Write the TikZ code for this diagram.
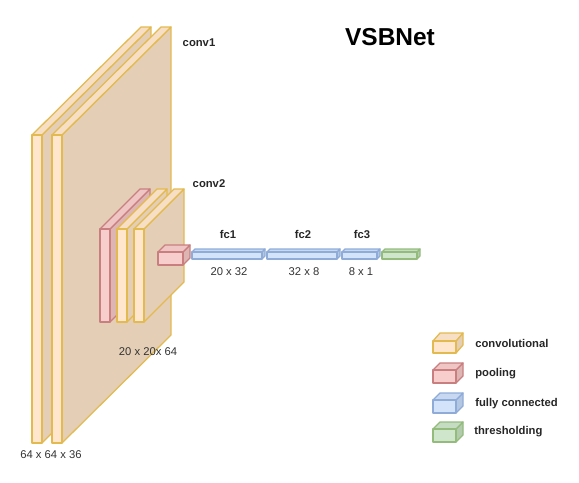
\documentclass[tikz,border=0pt]{standalone}
\usepackage{fontspec}
\setmainfont{Liberation Sans}

\definecolor{convline}{HTML}{E3BA50}
\definecolor{convfront}{HTML}{FFE6CC}
\definecolor{convtop}{HTML}{F6DFC4}
\definecolor{convside}{HTML}{E4CFB6}
\definecolor{poolline}{HTML}{C97F7F}
\definecolor{poolfront}{HTML}{F8CECC}
\definecolor{pooltop}{HTML}{EFC6C4}
\definecolor{poolside}{HTML}{DDB6B4}
\definecolor{fcline}{HTML}{8FACD8}
\definecolor{fcfront}{HTML}{D3E3FA}
\definecolor{fctop}{HTML}{C8D8F0}
\definecolor{fcside}{HTML}{B3C6E2}
\definecolor{threshline}{HTML}{93BC7C}
\definecolor{threshfront}{HTML}{CFE5CC}
\definecolor{threshtop}{HTML}{C5DBC2}
\definecolor{threshside}{HTML}{B2CBAD}
\definecolor{labeltext}{HTML}{333333}

\tikzset{
  face/.style={line width=0.9pt, line join=round},
  dimlabel/.style={font=\fontsize{8}{10}\selectfont, text=labeltext, inner sep=0pt},
  layerlabel/.style={font=\fontsize{8}{10}\selectfont\bfseries, text=black!85, inner sep=0pt},
  legendlabel/.style={layerlabel, anchor=west}
}

% kind, left, top, right, bottom, depth x, depth y
\newcommand{\cuboid}[7]{
  \draw[face, draw=#1line, fill=#1side] (#4,#3) -- ++(#6,-#7) -- (#4+#6,#5-#7) -- (#4,#5) -- cycle;
  \draw[face, draw=#1line, fill=#1top] (#2,#3) -- ++(#6,-#7) -- (#4+#6,#3-#7) -- (#4,#3) -- cycle;
  \draw[face, draw=#1line, fill=#1front] (#2,#3) rectangle (#4,#5);
}

\begin{document}
\begin{tikzpicture}[x=0.025cm, y=-0.025cm]
  \useasboundingbox (0,0) rectangle (579,482);

  % Conv layers
  \cuboid{conv}{32}{135}{42}{443}{109}{108}
  \cuboid{conv}{52}{135}{62}{443}{109}{108}

  % Second block
  \cuboid{pool}{100}{229}{110}{322}{40}{40}
  \cuboid{conv}{117}{229}{127}{322}{40}{40}
  \cuboid{conv}{134}{229}{144}{322}{40}{40}
  \cuboid{pool}{158}{252}{183}{265}{7}{7}

  % Fully connected layers
  \cuboid{fc}{192}{252}{262}{259}{3}{3}
  \cuboid{fc}{267}{252}{337}{259}{3}{3}
  \cuboid{fc}{342}{252}{377}{259}{3}{3}
  \cuboid{thresh}{382}{252}{417}{259}{3}{3}

  % Legend boxes
  \cuboid{conv}{433}{341}{456}{353}{7}{8}
  \cuboid{pool}{433}{370}{456}{383}{7}{7}
  \cuboid{fc}{433}{400}{456}{413}{7}{7}
  \cuboid{thresh}{433}{429}{456}{442}{7}{7}

  % Labels
  \node[font=\fontsize{17.4}{20}\selectfont\bfseries, inner sep=0pt] (title) at (390,37) {VSBNet};
  \node[layerlabel] (conv1) at (199,43) {conv1};
  \node[layerlabel] (conv2) at (209,184) {conv2};
  \node[layerlabel] (fc1) at (228,234) {fc1};
  \node[layerlabel] (fc2) at (303,234) {fc2};
  \node[layerlabel] (fc3) at (362,234) {fc3};
  \node[dimlabel] (dim1) at (51,455) {64 x 64 x 36};
  \node[dimlabel] (dim2) at (148,352) {20 x 20x 64};
  \node[dimlabel] (dim3) at (229,272) {20 x 32};
  \node[dimlabel] (dim4) at (304,272) {32 x 8};
  \node[dimlabel] (dim5) at (361,272) {8 x 1};

  % Legend labels
  \node[legendlabel] (legconv) at (475,343) {convolutional};
  \node[legendlabel] (legpool) at (475,374) {pooling};
  \node[legendlabel] (legfc) at (475,404) {fully connected};
  \node[legendlabel] (legthresh) at (474,432) {thresholding};
\end{tikzpicture}
\end{document}
